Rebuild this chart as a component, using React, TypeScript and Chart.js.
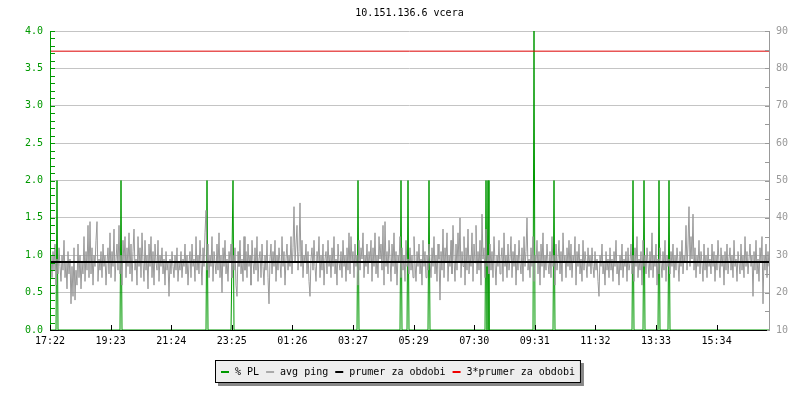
import React, { useEffect, useRef } from 'react';
import { Chart, registerables } from 'chart.js';

Chart.register(...registerables);

const chartTitle = '10.151.136.6 vcera';
const timeLabels = ['17:22', '19:23', '21:24', '23:25', '01:26', '03:27', '05:29', '07:30', '09:31', '11:32', '13:33', '15:34'];
const sampleStepMinutes = 2;
const labelStepMinutes = 121.2;

// avg ping (ms, right axis), one sample every 2 minutes
const avgPing: number[] = [
  27, 30, 24, 31, 26, 33, 22, 29, 25, 32, 27, 23, 30, 26, 34, 24, 28, 21, 31, 25,
  29, 17, 27, 19, 32, 18, 26, 22, 33, 24, 30, 21, 28, 25, 35, 23, 31, 26, 38, 24,
  39, 25, 32, 22, 30, 27, 34, 39, 23, 29, 26, 31, 24, 33, 27, 30, 22, 28, 32, 25,
  36, 24, 31, 27, 37, 23, 29, 33, 26, 38, 25, 30, 22, 34, 28, 35, 24, 32, 27, 36,
  25, 33, 23, 31, 37, 26, 29, 22, 35, 27, 32, 24, 36, 28, 23, 34, 26, 30, 21, 33,
  27, 35, 24, 31, 22, 33, 28, 26, 34, 23, 30, 27, 32, 25, 29, 22, 31, 26, 28, 19,
  29, 25, 31, 27, 24, 30, 26, 32, 23, 28, 26, 31, 24, 29, 27, 33, 25, 30, 22, 28,
  31, 24, 33, 27, 29, 23, 35, 26, 30, 25, 34, 28, 22, 32, 27, 36, 42, 26, 33, 24,
  30, 27, 35, 23, 31, 28, 25, 33, 26, 36, 24, 30, 20, 32, 27, 34, 25, 29, 23, 31,
  28, 33, 24, 30, 26, 32, 22, 19, 31, 27, 34, 25, 29, 23, 35, 26, 31, 24, 33, 27,
  30, 22, 34, 28, 25, 32, 26, 35, 23, 29, 31, 24, 33, 27, 22, 30, 26, 34, 24, 17,
  29, 33, 25, 31, 27, 34, 23, 30, 26, 32, 28, 24, 35, 27, 31, 22, 29, 33, 26, 30,
  27, 35, 25, 32, 43, 28, 33, 38, 26, 31, 44, 27, 34, 24, 30, 28, 33, 25, 31, 23,
  19, 29, 32, 26, 34, 27, 23, 31, 28, 35, 24, 30, 26, 33, 22, 29, 31, 25, 34, 27,
  30, 24, 32, 27, 35, 25, 29, 22, 33, 28, 26, 31, 24, 34, 27, 30, 23, 32, 26, 36,
  25, 35, 28, 31, 24, 33, 27, 30, 22, 34, 26, 32, 29, 36, 24, 30, 27, 33, 25, 31,
  28, 34, 23, 32, 27, 36, 25, 30, 24, 35, 29, 33, 26, 38, 22, 39, 27, 31, 25, 34,
  29, 23, 33, 27, 36, 25, 31, 22, 30, 28, 35, 24, 32, 26, 30, 23, 34, 27, 29, 25,
  32, 26, 30, 24, 35, 28, 23, 31, 27, 33, 25, 29, 22, 34, 27, 31, 24, 30, 26, 33,
  28, 24, 32, 27, 35, 25, 30, 23, 33, 29, 18, 31, 26, 37, 24, 32, 28, 36, 23, 30,
  27, 34, 25, 38, 29, 23, 33, 26, 36, 28, 40, 24, 31, 27, 35, 22, 32, 26, 37, 25,
  30, 27, 36, 23, 33, 28, 38, 25, 31, 26, 34, 22, 41, 29, 32, 24, 37, 27, 30, 25,
  33, 26, 31, 24, 35, 28, 22, 30, 27, 34, 25, 29, 32, 23, 36, 27, 30, 24, 33, 26,
  29, 35, 24, 31, 27, 33, 22, 30, 26, 34, 28, 25, 32, 23, 35, 27, 31, 40, 26, 29,
  24, 32, 27, 35, 23, 30, 28, 34, 25, 31, 22, 33, 27, 36, 24, 30, 26, 33, 28, 25,
  31, 24, 35, 27, 30, 22, 33, 26, 29, 34, 25, 31, 23, 36, 28, 30, 24, 32, 27, 34,
  26, 33, 24, 30, 28, 35, 22, 31, 27, 33, 25, 29, 23, 34, 26, 31, 28, 24, 32, 27,
  30, 25, 32, 27, 24, 31, 26, 29, 23, 19, 30, 27, 33, 25, 28, 22, 31, 26, 29, 24,
  32, 26, 29, 23, 31, 27, 34, 25, 28, 22, 30, 26, 33, 24, 29, 27, 31, 23, 32, 26,
  28, 33, 25, 30, 23, 32, 27, 35, 24, 29, 26, 31, 22, 34, 27, 30, 25, 32, 28, 24,
  31, 26, 36, 24, 30, 27, 33, 22, 29, 25, 32, 28, 24, 31, 26, 34, 23, 30, 27, 29,
  25, 31, 27, 33, 24, 30, 26, 32, 28, 23, 31, 27, 34, 25, 30, 28, 38, 26, 33, 43,
  27, 35, 29, 41, 26, 32, 24, 30, 27, 34, 25, 31, 28, 23, 33, 26, 30, 24, 32, 27,
  29, 25, 33, 27, 31, 23, 30, 26, 34, 28, 24, 32, 27, 30, 22, 31, 26, 33, 25, 29,
  32, 26, 30, 24, 34, 27, 29, 23, 31, 28, 25, 33, 26, 30, 24, 35, 27, 31, 25, 29,
  33, 27, 30, 19, 31, 26, 34, 25, 29, 23, 32, 28, 35, 17, 30, 26, 33, 24, 31, 27,
];

// packet loss (%), zero except at these samples
const plSpikeSample = [7, 71, 157, 183, 308, 351, 358, 379, 436, 438, 484, 504, 583, 594, 609, 619];
const plSpikeValue = [2, 2, 2, 2, 2, 2, 2, 2, 2, 2, 4, 2, 2, 2, 2, 2];

const periodAverage = 28.2;

const legendLabels = ['% PL', 'avg ping', 'prumer za obdobi', '3*prumer za obdobi'];
const seriesColors = ['#009900', '#999999', '#000000', '#dd0000'];
const legendSwatchColors = ['#009900', '#aaaaaa', '#000000', '#ee0000'];

const FONT = '"DejaVu Sans Mono", monospace';

export default function App() {
  const ref = useRef<HTMLCanvasElement | null>(null);

  useEffect(() => {
    document.body.style.margin = '0';
    const canvas = ref.current;
    if (!canvas) return;

    const xMax = (avgPing.length - 1) * sampleStepMinutes;
    const plSeries = avgPing.map(() => 0);
    plSpikeSample.forEach((s, k) => { plSeries[s] = plSpikeValue[k]; });

    const pingPts = avgPing.map((v, i) => ({ x: i * sampleStepMinutes, y: v }));
    const plPts = plSeries.map((v, i) => ({ x: i * sampleStepMinutes, y: v }));
    const avgPts = [{ x: 0, y: periodAverage }, { x: xMax, y: periodAverage }];
    const avg3Pts = [{ x: 0, y: 3 * periodAverage }, { x: xMax, y: 3 * periodAverage }];

    const decor = {
      id: 'decor',
      afterDatasetsDraw(chart: any) {
        const { ctx, chartArea } = chart;
        const { left, right, top, bottom } = chartArea;
        const y = chart.scales.y;
        const y2 = chart.scales.y2;
        const x = chart.scales.x;
        ctx.save();
        ctx.lineWidth = 1;
        // left axis
        ctx.strokeStyle = '#009900';
        ctx.beginPath();
        ctx.moveTo(left + 0.5, top);
        ctx.lineTo(left + 0.5, bottom + 1);
        for (let i = 0; i <= 40; i++) {
          const py = Math.round(y.getPixelForValue(i / 10)) + 0.5;
          ctx.moveTo(left, py);
          ctx.lineTo(left + 5, py);
        }
        ctx.stroke();
        // right axis
        ctx.strokeStyle = '#999999';
        ctx.beginPath();
        ctx.moveTo(right + 0.5, top);
        ctx.lineTo(right + 0.5, bottom + 1);
        for (let v = 10; v <= 90; v += 5) {
          const py = Math.round(y2.getPixelForValue(v)) + 0.5;
          ctx.moveTo(right + 1, py);
          ctx.lineTo(right - 4, py);
        }
        ctx.stroke();
        // bottom axis
        ctx.strokeStyle = '#000000';
        ctx.beginPath();
        ctx.moveTo(left, bottom + 0.5);
        ctx.lineTo(right - 2, bottom + 0.5);
        x.ticks.forEach((t: any) => {
          const px = Math.round(x.getPixelForValue(t.value)) + 0.5;
          ctx.moveTo(px, bottom);
          ctx.lineTo(px, bottom - 5);
        });
        ctx.stroke();
        ctx.restore();
      },
      afterDraw(chart: any) {
        const { ctx, chartArea } = chart;
        ctx.save();
        ctx.font = '10px ' + FONT;
        ctx.fillStyle = '#000';
        ctx.textAlign = 'center';
        ctx.textBaseline = 'middle';
        ctx.fillText(chartTitle, (chartArea.left + chartArea.right) / 2, 13);

        // legend
        const sw = 8, gapAfterSw = 6, gapItems = 7, padX = 6;
        const widths = legendLabels.map((l) => ctx.measureText(l).width);
        const total = widths.reduce((a, b) => a + b, 0) + legendLabels.length * (sw + gapAfterSw) + (legendLabels.length - 1) * gapItems + padX * 2;
        const bx = Math.round(398 - total / 2);
        const by = 360;
        const bh = 23;
        ctx.fillStyle = '#888888';
        ctx.fillRect(bx + 3, by + 3, total, bh);
        ctx.fillStyle = '#eeeeee';
        ctx.fillRect(bx, by, total, bh);
        ctx.strokeStyle = '#000';
        ctx.lineWidth = 1;
        ctx.strokeRect(bx + 0.5, by + 0.5, total - 1, bh - 1);
        let cx = bx + padX;
        const cy = by + bh / 2;
        ctx.textAlign = 'left';
        legendLabels.forEach((l, i) => {
          ctx.fillStyle = legendSwatchColors[i];
          ctx.fillRect(cx, Math.round(cy) - 1, sw, 2);
          cx += sw + gapAfterSw;
          ctx.fillStyle = '#000';
          ctx.fillText(l, cx, cy + 0.5);
          cx += widths[i] + gapItems;
        });
        ctx.restore();
      },
    };

    const chart = new Chart(canvas, {
      type: 'line',
      data: {
        datasets: [
          { label: legendLabels[0], data: plPts, yAxisID: 'y', borderColor: seriesColors[0], borderWidth: 1, pointRadius: 0, tension: 0, order: 4 },
          { label: legendLabels[1], data: pingPts, yAxisID: 'y2', borderColor: seriesColors[1], borderWidth: 1, pointRadius: 0, tension: 0, order: 3 },
          { label: legendLabels[2], data: avgPts, yAxisID: 'y2', borderColor: seriesColors[2], borderWidth: 2, pointRadius: 0, tension: 0, order: 2 },
          { label: legendLabels[3], data: avg3Pts, yAxisID: 'y2', borderColor: seriesColors[3], borderWidth: 1, pointRadius: 0, tension: 0, order: 1 },
        ],
      },
      options: {
        responsive: false,
        animation: false,
        devicePixelRatio: 1,
        events: [],
        layout: { padding: { top: 31, left: 0, right: 0, bottom: 0 } },
        plugins: {
          legend: { display: false },
          title: { display: false },
          tooltip: { enabled: false },
        },
        scales: {
          x: {
            type: 'linear',
            min: 0,
            max: xMax,
            afterBuildTicks: (s: any) => {
              s.ticks = timeLabels.map((_, k) => ({ value: k * labelStepMinutes }));
            },
            ticks: {
              callback: (_v: any, i: number) => timeLabels[i],
              color: '#000',
              font: { family: FONT, size: 10 },
              padding: 5,
              maxRotation: 0,
              autoSkip: false,
            },
            grid: { display: false, drawTicks: false },
            border: { display: false },
            afterFit: (s: any) => { s.height = 70; },
          },
          y: {
            position: 'left',
            min: 0,
            max: 4,
            ticks: {
              stepSize: 0.5,
              callback: (v: any) => Number(v).toFixed(1),
              color: '#009900',
              font: { family: FONT, size: 10 },
              padding: 7,
            },
            grid: { color: '#c4c4c4', drawTicks: false },
            border: { display: false },
            afterFit: (s: any) => { s.width = 50; },
          },
          y2: {
            position: 'right',
            min: 10,
            max: 90,
            ticks: {
              stepSize: 10,
              color: '#999999',
              font: { family: FONT, size: 10 },
              padding: 7,
            },
            grid: { drawOnChartArea: false, drawTicks: false },
            border: { display: false },
            afterFit: (s: any) => { s.width = 31; },
          },
        },
      },
      plugins: [decor],
    } as any);

    return () => { chart.destroy(); };
  }, []);

  return (
    <div style={{ width: 800, height: 400, background: '#fff' }}>
      <canvas ref={ref} width={800} height={400} style={{ display: 'block' }} />
    </div>
  );
}
